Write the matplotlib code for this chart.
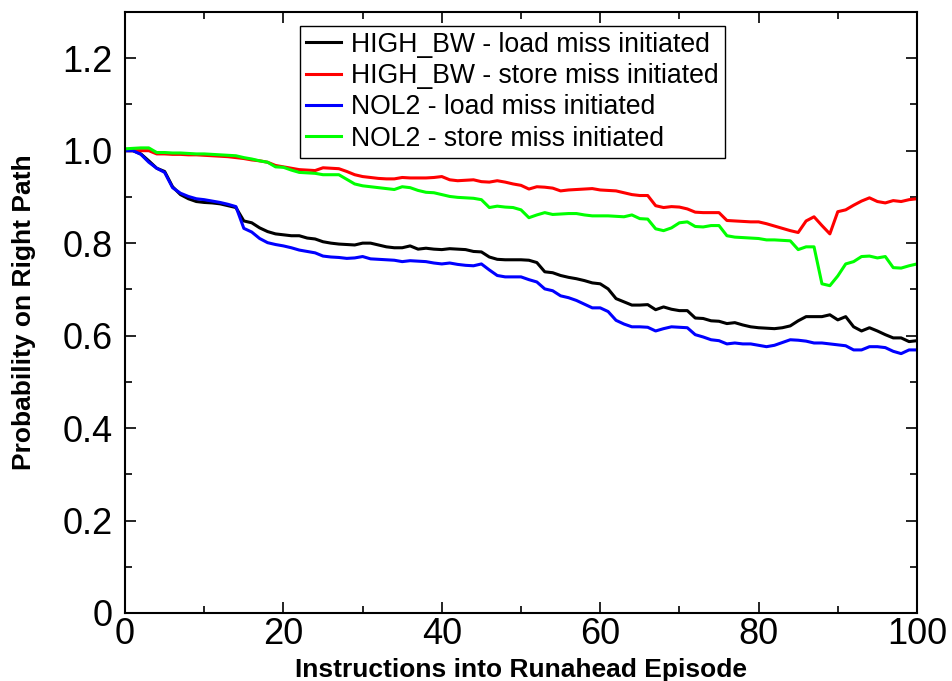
import numpy as np
import matplotlib
matplotlib.use("Agg")
import matplotlib.pyplot as plt
from matplotlib.ticker import MultipleLocator

plt.rcParams['font.family'] = ['Liberation Sans', 'DejaVu Sans']

# instructions into runahead episode
x = list(range(0, 101))

# HIGH_BW - load miss initiated
high_load = [1.000, 1.000, 0.993, 0.978, 0.962, 0.955, 0.922, 0.905, 0.896, 0.890,
             0.888, 0.887, 0.885, 0.881, 0.877, 0.848, 0.844, 0.833, 0.825, 0.820,
             0.818, 0.816, 0.816, 0.811, 0.809, 0.803, 0.800, 0.798, 0.797, 0.796,
             0.800, 0.800, 0.796, 0.792, 0.790, 0.790, 0.794, 0.787, 0.789, 0.787,
             0.786, 0.788, 0.787, 0.786, 0.782, 0.781, 0.770, 0.765, 0.764, 0.764,
             0.764, 0.763, 0.758, 0.738, 0.736, 0.730, 0.726, 0.723, 0.719, 0.714,
             0.712, 0.701, 0.680, 0.673, 0.666, 0.666, 0.667, 0.656, 0.662, 0.657,
             0.654, 0.654, 0.638, 0.637, 0.632, 0.631, 0.626, 0.628, 0.623, 0.619,
             0.617, 0.616, 0.615, 0.617, 0.621, 0.632, 0.641, 0.641, 0.641, 0.645,
             0.634, 0.641, 0.619, 0.610, 0.617, 0.610, 0.602, 0.595, 0.595, 0.587,
             0.589]

# HIGH_BW - store miss initiated
high_store = [1.000, 1.000, 1.000, 1.000, 0.993, 0.993, 0.992, 0.992, 0.991, 0.991,
              0.990, 0.989, 0.988, 0.987, 0.985, 0.983, 0.980, 0.978, 0.975, 0.968,
              0.965, 0.962, 0.959, 0.958, 0.957, 0.963, 0.962, 0.961, 0.955, 0.948,
              0.944, 0.942, 0.940, 0.939, 0.939, 0.942, 0.941, 0.941, 0.941, 0.942,
              0.944, 0.937, 0.935, 0.936, 0.937, 0.933, 0.932, 0.935, 0.932, 0.928,
              0.925, 0.917, 0.922, 0.921, 0.919, 0.913, 0.915, 0.916, 0.917, 0.918,
              0.915, 0.914, 0.913, 0.909, 0.905, 0.903, 0.903, 0.881, 0.877, 0.879,
              0.878, 0.874, 0.867, 0.866, 0.866, 0.866, 0.849, 0.848, 0.847, 0.846,
              0.846, 0.842, 0.837, 0.832, 0.827, 0.823, 0.848, 0.857, 0.838, 0.820,
              0.868, 0.872, 0.882, 0.891, 0.898, 0.890, 0.887, 0.892, 0.890, 0.894,
              0.896]

# NOL2 - load miss initiated
nol2_load = [1.000, 1.000, 0.992, 0.975, 0.962, 0.953, 0.920, 0.908, 0.901, 0.896,
             0.894, 0.891, 0.888, 0.884, 0.879, 0.832, 0.824, 0.810, 0.801, 0.797,
             0.794, 0.790, 0.785, 0.782, 0.779, 0.772, 0.770, 0.769, 0.767, 0.768,
             0.771, 0.766, 0.765, 0.764, 0.763, 0.760, 0.762, 0.761, 0.760, 0.757,
             0.755, 0.757, 0.754, 0.752, 0.751, 0.755, 0.742, 0.730, 0.727, 0.727,
             0.727, 0.721, 0.716, 0.701, 0.697, 0.686, 0.682, 0.676, 0.668, 0.660,
             0.660, 0.652, 0.633, 0.625, 0.619, 0.619, 0.618, 0.610, 0.615, 0.619,
             0.618, 0.617, 0.602, 0.597, 0.591, 0.589, 0.582, 0.584, 0.582, 0.582,
             0.579, 0.576, 0.579, 0.585, 0.591, 0.590, 0.588, 0.584, 0.584, 0.582,
             0.580, 0.578, 0.569, 0.569, 0.576, 0.576, 0.574, 0.566, 0.561, 0.569,
             0.569]

# NOL2 - store miss initiated
nol2_store = [1.004, 1.005, 1.006, 1.006, 0.996, 0.996, 0.995, 0.995, 0.994, 0.993,
              0.993, 0.992, 0.991, 0.990, 0.989, 0.985, 0.982, 0.978, 0.975, 0.965,
              0.964, 0.958, 0.953, 0.952, 0.951, 0.948, 0.948, 0.948, 0.938, 0.928,
              0.924, 0.922, 0.920, 0.918, 0.916, 0.922, 0.920, 0.914, 0.910, 0.909,
              0.905, 0.901, 0.899, 0.898, 0.897, 0.894, 0.877, 0.880, 0.878, 0.877,
              0.872, 0.855, 0.861, 0.866, 0.862, 0.863, 0.864, 0.864, 0.861, 0.859,
              0.859, 0.859, 0.858, 0.857, 0.861, 0.853, 0.852, 0.831, 0.827, 0.833,
              0.844, 0.846, 0.836, 0.835, 0.838, 0.838, 0.816, 0.813, 0.812, 0.811,
              0.810, 0.807, 0.807, 0.806, 0.805, 0.786, 0.792, 0.792, 0.712, 0.708,
              0.729, 0.755, 0.760, 0.771, 0.772, 0.768, 0.771, 0.747, 0.746, 0.751,
              0.755]

fig = plt.figure(figsize=(9.53, 6.81), dpi=100)
ax = fig.add_axes([0.1312, 0.0999, 0.8310, 0.8825])

ax.plot(x, high_load, color="black", lw=2.2, label="HIGH_BW - load miss initiated")
ax.plot(x, high_store, color="#ff0000", lw=2.2, label="HIGH_BW - store miss initiated")
ax.plot(x, nol2_load, color="#0000ff", lw=2.2, label="NOL2 - load miss initiated")
ax.plot(x, nol2_store, color="#00ff00", lw=2.2, label="NOL2 - store miss initiated")

ax.set_xlim(0, 100)
ax.set_ylim(0, 1.3)
ax.xaxis.set_major_locator(MultipleLocator(20))
ax.xaxis.set_minor_locator(MultipleLocator(10))
ax.yaxis.set_minor_locator(MultipleLocator(0.1))
ax.set_yticks([0, 0.2, 0.4, 0.6, 0.8, 1.0, 1.2])
ax.set_yticklabels(["0", "0.2", "0.4", "0.6", "0.8", "1.0", "1.2"])

ax.tick_params(which="both", direction="in", top=True, right=True, width=1.2)
ax.tick_params(which="major", length=8, labelsize=26)
ax.tick_params(axis="y", which="major", pad=9)
ax.tick_params(axis="x", which="major", pad=3)
ax.tick_params(which="minor", length=5)
for s in ax.spines.values():
    s.set_linewidth(1.5)

ax.set_xlabel("Instructions into Runahead Episode", fontsize=19, fontweight="bold", labelpad=4)
ax.set_ylabel("Probability on Right Path", fontsize=19, fontweight="bold", labelpad=19)

leg = ax.legend(loc="upper left", bbox_to_anchor=(0.221, 0.977), borderaxespad=0,
                fontsize=19.2, handlelength=1.3, handletextpad=0.4, labelspacing=0.2,
                fancybox=False, framealpha=1, edgecolor="black", borderpad=0.22)
leg.get_frame().set_linewidth(1.0)

fig.savefig("out.png", dpi=100)
